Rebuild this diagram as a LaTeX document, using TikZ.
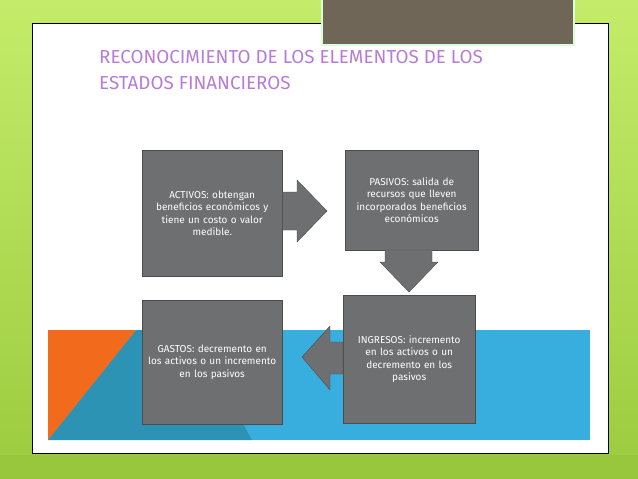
\documentclass[tikz,border=0pt]{standalone}
\usepackage{fontspec}
\setmainfont{Fira Sans}
\definecolor{bggreen}{HTML}{9BCB3E}
\definecolor{bglight}{HTML}{C4EC6A}
\definecolor{boxgray}{HTML}{6E6F71}
\definecolor{topbox}{HTML}{706657}
\definecolor{lblue}{HTML}{38AEDF}
\definecolor{dblue}{HTML}{2C93B4}
\definecolor{orng}{HTML}{F26B1D}
\definecolor{ttl}{HTML}{B77CD6}
\tikzset{
  gbox/.style={draw=gray!60!black, fill=boxgray, text=white, align=center, font=\fontsize{10}{12.5}\selectfont, inner sep=2pt, anchor=north west},
  arrowshape/.style={fill=boxgray, draw=gray!60!black}
}
\begin{document}
\begin{tikzpicture}[x=1pt,y=-1pt]
\useasboundingbox (0,0) rectangle (638,479);
\shade[top color=bglight, bottom color=bggreen] (0,0) rectangle (638,479);
\fill[bggreen!80!black, opacity=0.12] (0,455) rectangle (638,479);
% slide
\node[draw=black, line width=0.8pt, fill=white, minimum width=576pt, minimum height=430pt, anchor=north west, inner sep=0] (slide) at (32,23) {};
% top dark box
\node[draw=white!85!green, line width=2pt, fill=topbox, minimum width=252pt, minimum height=46pt, anchor=north west, inner sep=0] (tbox) at (321,-2) {};
% title
\node[anchor=north west, text=ttl, align=left, font=\fontsize{18.8}{26}\selectfont, inner sep=0] (title) at (99,50) {RECONOCIMIENTO DE LOS ELEMENTOS DE LOS\\ESTADOS FINANCIEROS};
% lower band
\fill[lblue] (48,330) rectangle (590,440);
\fill[dblue] (48,440) -- (136,330) -- (190,330) -- (252,440) -- cycle;
\fill[orng] (48,330) -- (136,330) -- (48,440) -- cycle;
% boxes
\node[gbox, minimum width=140pt, minimum height=126pt, text width=134pt] (act) at (142,150) {ACTIVOS: obtengan\\beneficios económicos y\\tiene un costo o valor\\medible.};
\node[gbox, minimum width=133pt, minimum height=100pt, text width=128pt] (pas) at (345,150) {PASIVOS: salida de\\recursos que lleven\\incorporados beneficios\\económicos};
\node[gbox, minimum width=132pt, minimum height=128pt, text width=127pt] (ing) at (343,295) {INGRESOS: incremento\\en los activos o un\\decremento en los\\pasivos};
\node[gbox, minimum width=140pt, minimum height=124pt, text width=136pt] (gas) at (142,300) {GASTOS: decremento en\\los activos o un incremento\\en los pasivos};
% arrows
\draw[arrowshape] (act.east |- 0,192) -- (297,192) -- (297,180) -- (327,211) -- (297,242) -- (297,230) -- (act.east |- 0,230) -- cycle;
\draw[arrowshape] (385,250) -- (385,262) -- (380,262) -- (409,292) -- (438,262) -- (432,262) -- (432,250) -- cycle;
\draw[arrowshape] (ing.west |- 0,342) -- (330,342) -- (330,326) -- (302,357) -- (330,390) -- (330,374) -- (ing.west |- 0,374) -- cycle;
\end{tikzpicture}
\end{document}
